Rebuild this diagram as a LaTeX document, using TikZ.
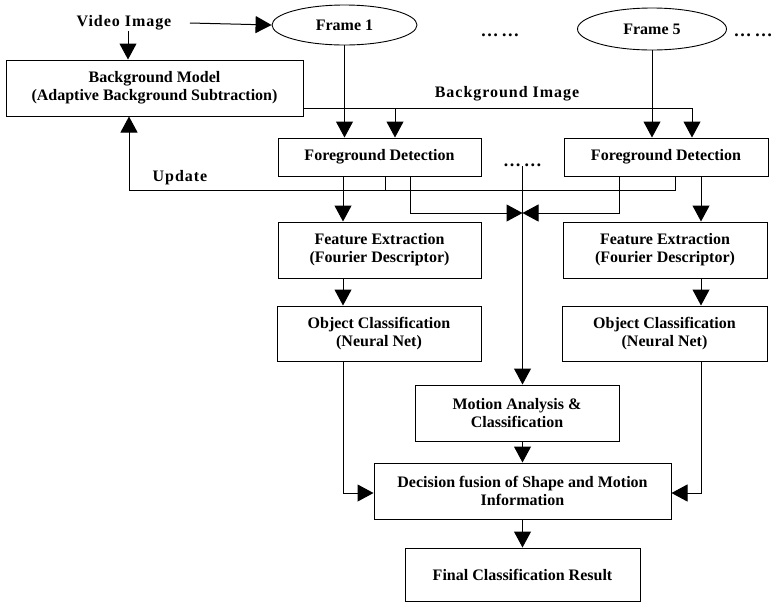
\documentclass[tikz,border=0pt]{standalone}
\usepackage{fontspec}
\setmainfont{Liberation Serif}
\usetikzlibrary{arrows.meta,shapes.geometric}
\tikzset{
  box/.style={draw, line width=1pt, inner sep=0pt, align=center,
    font=\fontsize{16}{18}\selectfont\bfseries},
  frameell/.style={draw, ellipse, line width=0.9pt, inner sep=0pt,
    font=\fontsize{16}{18}\selectfont\bfseries},
  lbl/.style={inner sep=0pt, font=\fontsize{16}{18}\selectfont\bfseries\addfontfeatures{LetterSpace=6}},
  dots/.style={inner sep=0pt, anchor=base, font=\fontsize{18}{18}\selectfont\bfseries},
  arr/.style={-{Triangle[width=17pt,length=16pt]}},
}
\begin{document}
\begin{tikzpicture}[x=1pt, y=-1pt, line width=1pt]
\useasboundingbox (0,0) rectangle (775,603);
% columns of the connectors
\coordinate (colL) at (343,0);
\coordinate (colM) at (522.5,0);
\coordinate (colR) at (701,0);
% top row
\node[lbl] (vid) at (124,23) {Video Image};
\node[frameell, minimum width=145pt, minimum height=40pt] (f1) at (344.5,25) {Frame 1};
\node[frameell, minimum width=149pt, minimum height=42pt] (f5) at (652,29) {Frame 5};
\node[dots] (dots1) at (500,36) {…\,…};
\node[dots] (dots2) at (753,36) {…\,…};
\node[box, minimum width=297pt, minimum height=56pt] (bgm) at (154.5,88)
  {Background Model\\(Adaptive Background Subtraction)};
\node[lbl] (bgi) at (507,94) {Background Image};
% foreground detection
\node[box, minimum width=203pt, minimum height=38pt] (fd1) at (379.5,157) {Foreground Detection};
\node[box, minimum width=204pt, minimum height=38pt] (fd2) at (666,157) {Foreground Detection};
\node[dots] (dots3) at (522.5,166) {…\,…};
\node[lbl] (upd) at (180,178) {Update};
% feature extraction and object classification
\node[box, minimum width=203pt, minimum height=56pt] (fe1) at (379.5,250) {Feature Extraction\\(Fourier Descriptor)};
\node[box, minimum width=204pt, minimum height=56pt] (fe2) at (665,250) {Feature Extraction\\(Fourier Descriptor)};
\node[box, minimum width=204pt, minimum height=55pt] (oc1) at (379,333.5) {Object Classification\\(Neural Net)};
\node[box, minimum width=205pt, minimum height=55pt] (oc2) at (664.5,333.5) {Object Classification\\(Neural Net)};
% motion and fusion
\node[box, minimum width=204pt, minimum height=56pt] (ma) at (517,413) {Motion Analysis \&\\Classification};
\node[box, minimum width=297pt, minimum height=56pt] (df) at (522.5,491) {Decision fusion of Shape and Motion\\Information};
\node[box, minimum width=235pt, minimum height=53pt] (fin) at (522.5,574.5) {Final Classification Result};

% video input
\draw[arr] ([xshift=18pt]vid.east) -- (f1.west);
\draw[arr] (vid.south -| 128,0) -- (bgm.north -| 128,0);
% frames to foreground detection
\draw[arr] (f1.south) -- (f1 |- fd1.north);
\draw[arr] (f5.south) -- (f5 |- fd2.north);
% background image
\draw[arr] (bgm.east |- 0,108) -| ([xshift=26pt]fd2.north);
\draw[arr] ([xshift=15.5pt]fd1.north |- 0,108) -- ([xshift=15.5pt]fd1.north);
% update
\draw[arr] ([xshift=9pt]fd2.south) |- ([xshift=-25.5pt]bgm.south |- 0,190)
  -- ([xshift=-25.5pt]bgm.south);
\draw ([xshift=5.5pt]fd1.south) -- ([xshift=5.5pt]fd1.south |- 0,190);
% to motion analysis
\draw[arr] ([xshift=30.5pt]fd1.south) |- (colM |- 0,213);
\draw[arr] ([xshift=-47pt]fd2.south) |- (colM |- 0,213);
\draw[arr] (dots3.base) -- (colM |- ma.north);
% shape branch
\draw[arr] (colL |- fd1.south) -- (colL |- fe1.north);
\draw[arr] (colL |- fe1.south) -- (colL |- oc1.north);
\draw[arr] (colR |- fd2.south) -- (colR |- fe2.north);
\draw[arr] (colR |- fe2.south) -- (colR |- oc2.north);
% fusion
\draw[arr] (colL |- oc1.south) |- (df.west |- 0,493);
\draw[arr] (colR |- oc2.south) |- (df.east |- 0,493);
\draw[arr] (colM |- ma.south) -- (colM |- df.north);
\draw[arr] (df.south) -- (fin.north);
\end{tikzpicture}
\end{document}
